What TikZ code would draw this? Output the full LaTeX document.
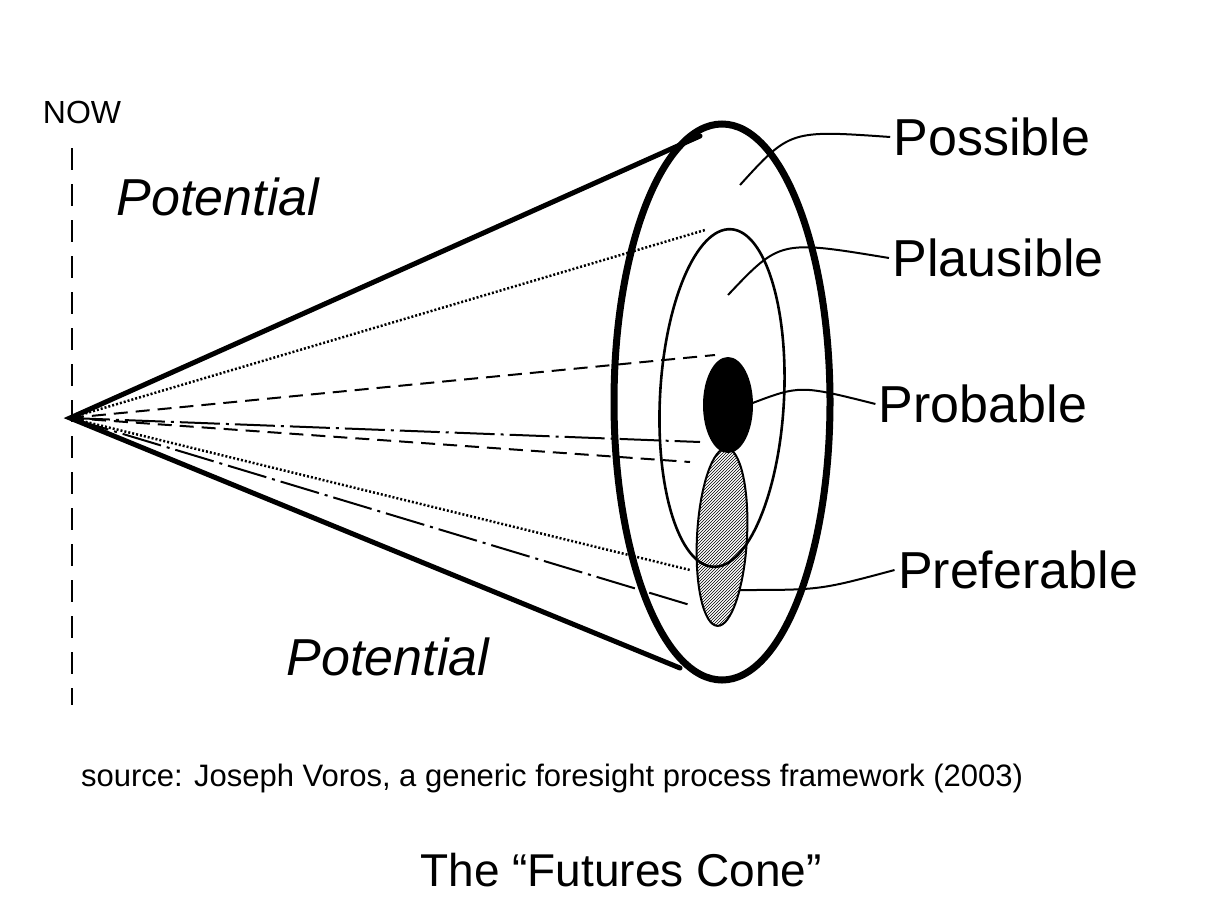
\documentclass[tikz,border=0pt]{standalone}
\usepackage{fontspec}
\setmainfont{Liberation Sans}
\usetikzlibrary{patterns,shapes.geometric}
\begin{document}
\begin{tikzpicture}[x=1pt,y=-1pt,
  hand/.style={font=\fontsize{52}{56}\selectfont\itshape, anchor=center},
  lab/.style={font=\fontsize{52}{56}\selectfont, anchor=center},
  lead/.style={line width=2pt},
  cone/.style={line width=5pt, line cap=round},
  guide/.style={line width=2pt}]
\useasboundingbox (0,0) rectangle (1212,918);
\node (now) at (82,112) {\fontsize{32}{34}\selectfont NOW};
\coordinate (nt) at (72,148); \coordinate (nb) at (72,705);
\draw[line width=2.2pt, dash pattern=on 22pt off 14pt] (nt) -- (nb);
\node[hand] (pot1) at (218,197) {Potential};
\node[hand] (pot2) at (388,657) {Potential};
\coordinate (apex) at (70,418);
% guides
\coordinate (d1) at (705,230); \coordinate (d2) at (690,570);
\coordinate (e1) at (715,355); \coordinate (e2) at (690,462);
\coordinate (f1) at (700,442); \coordinate (f2) at (690,605);
\draw[guide, dotted, line width=2.5pt] (apex) -- (d1);
\draw[guide, dotted, line width=2.5pt] (apex) -- (d2);
\draw[guide, dash pattern=on 14pt off 8pt] (apex) -- (e1);
\draw[guide, dash pattern=on 14pt off 8pt] (apex) -- (e2);
\draw[guide, dash pattern=on 40pt off 6pt on 3pt off 6pt] (apex) -- (f1);
\draw[guide, dash pattern=on 40pt off 6pt on 3pt off 6pt] (apex) -- (f2);
% cone
\coordinate (ct) at (700,136); \coordinate (cb) at (680,668);
\draw[cone] (ct) -- (apex) -- (cb);
\node[draw, line width=7pt, ellipse, minimum width=216pt, minimum height=556pt, inner sep=0pt] (outer) at (722,402) {};
\node[draw, line width=2.6pt, ellipse, minimum width=124pt, minimum height=338pt, inner sep=0pt, rotate=-3] (plaus) at (722,398) {};
\node[draw, line width=2pt, ellipse, minimum width=50pt, minimum height=178pt, inner sep=0pt, pattern=north east lines, rotate=-3] (pref) at (722,537) {};
\node[fill=black, ellipse, minimum width=50pt, minimum height=96pt, inner sep=0pt] (prob) at (728,405) {};
% labels
\node[lab] (lposs) at (992,137) {Possible};
\node[lab] (lplau) at (998,258) {Plausible};
\node[lab] (lprob) at (983,404) {Probable};
\node[lab] (lpref) at (1018,570) {Preferable};
\draw[lead] (740,185) .. controls (790,130) .. (lposs.west);
\draw[lead] (728,295) .. controls (780,240) .. (lplau.west);
\draw[lead] (750,404) .. controls (800,385) .. (lprob.west);
\draw[lead] (740,590) .. controls (820,590) .. (lpref.west);
\node (src) at (552,778) {\fontsize{31}{34}\selectfont source: Joseph Voros, a generic foresight process framework (2003)};
\node (title) at (621,870) {\fontsize{46}{50}\selectfont The “Futures Cone”};
\end{tikzpicture}
\end{document}
